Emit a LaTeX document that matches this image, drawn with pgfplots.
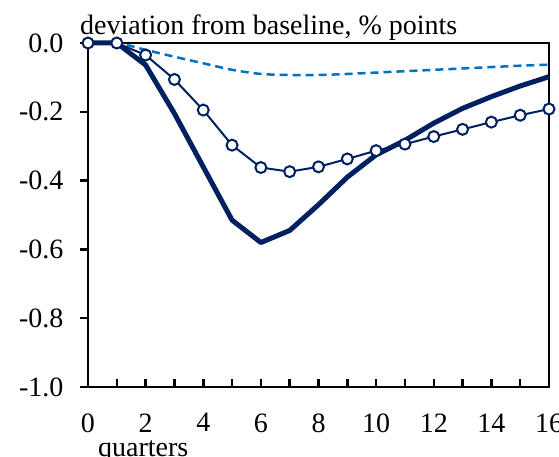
\documentclass[border=0pt]{standalone}
\usepackage{fontspec}
\setmainfont{Liberation Serif}
\usepackage{pgfplots}
\pgfplotsset{compat=1.18}
\definecolor{navy}{HTML}{002060}
\definecolor{midblue}{HTML}{0070C0}
\begin{document}
\fontsize{28}{32}\selectfont
\begin{tikzpicture}
\begin{axis}[
  name=ax,
  scale only axis, width=461pt, height=344pt,
  xmin=0, xmax=16, ymin=-1, ymax=0,
  clip=false,
  axis line style={line width=2.5pt, black},
  xtick={0,1,...,16},
  xticklabels={0,,2,,4,,6,,8,,10,,12,,14,,16},
  ytick={-1,-0.8,-0.6,-0.4,-0.2,0},
  yticklabels={-1.0,-0.8,-0.6,-0.4,-0.2,0.0},
  xtick pos=bottom, ytick pos=left,
  xtick align=inside, ytick align=outside,
  major tick length=8pt,
  tick style={line width=2.5pt, black},
  every tick label/.append style={font=\fontsize{28}{32}\selectfont},
  xticklabel style={yshift=-17pt},
  yticklabel style={xshift=-7pt},
  /pgf/number format/assume math mode=true,
]
\addplot[midblue, line width=2.5pt, dash pattern=on 8pt off 5pt, smooth] coordinates {
(0,0)(1,0)(2,-0.02)(3,-0.04)(4,-0.059)(5,-0.078)(6,-0.09)(7,-0.093)(8,-0.093)(9,-0.09)(10,-0.086)(11,-0.082)(12,-0.078)(13,-0.074)(14,-0.07)(15,-0.066)(16,-0.063)};
\addplot[navy, line width=5pt, line join=round, mark=none] coordinates {
(0,0)(1,0)(2,-0.064)(3,-0.205)(4,-0.36)(5,-0.515)(6,-0.58)(7,-0.545)(8,-0.47)(9,-0.39)(10,-0.325)(11,-0.283)(12,-0.233)(13,-0.19)(14,-0.156)(15,-0.125)(16,-0.098)};
\addplot[navy, line width=2pt, mark=*, mark size=5.5pt, mark options={fill=white, draw=navy, line width=2pt}] coordinates {
(0,0)(1,0)(2,-0.035)(3,-0.106)(4,-0.195)(5,-0.297)(6,-0.362)(7,-0.374)(8,-0.36)(9,-0.337)(10,-0.313)(11,-0.294)(12,-0.272)(13,-0.251)(14,-0.23)(15,-0.21)(16,-0.192)};
\node[anchor=base west, inner sep=0pt, font=\fontsize{28}{32}\selectfont] at ([xshift=-8pt, yshift=8pt]rel axis cs:0,1) {deviation from baseline, \% points};
\node[anchor=base west, inner sep=0pt, font=\fontsize{28}{32}\selectfont] at ([xshift=10pt, yshift=-69pt]rel axis cs:0,0) {quarters};
\end{axis}
\pgfresetboundingbox
\path[use as bounding box] ([shift={(-88pt,-70pt)}]ax.south west) rectangle ([shift={(10pt,43pt)}]ax.north east);
\end{tikzpicture}
\end{document}
